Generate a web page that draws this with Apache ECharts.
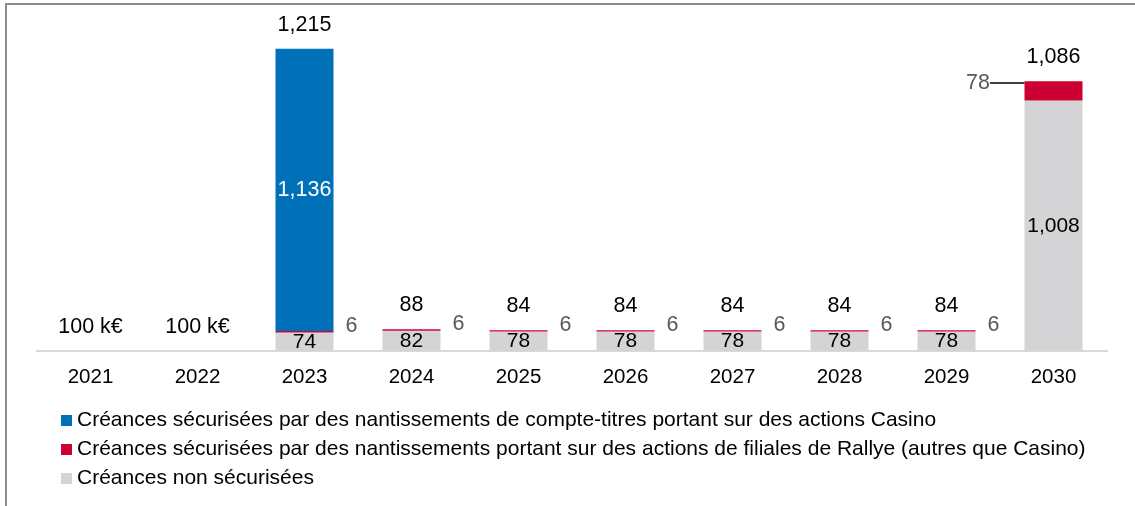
<!DOCTYPE html>
<html>
<head>
<meta charset="utf-8">
<script src="https://cdn.jsdelivr.net/npm/echarts@6/dist/echarts.min.js"></script>
<style>
  html, body { margin: 0; padding: 0; background: #fff; }
  #chart { width: 1135px; height: 506px; }
</style>
</head>
<body>
<div id="chart"></div>
<script>
// data (M€)
const years = ['2021', '2022', '2023', '2024', '2025', '2026', '2027', '2028', '2029', '2030'];
const casinoValues = [0, 0, 1136, 0, 0, 0, 0, 0, 0, 0];
const rallyeValues = [0, 0, 6, 6, 6, 6, 6, 6, 6, 78];
const unsecuredValues = [0.1, 0.1, 74, 82, 78, 78, 78, 78, 78, 1008];
const totals = [0.1, 0.1, 1215, 88, 84, 84, 84, 84, 84, 1086];

const seriesNames = [
  'Créances sécurisées par des nantissements de compte-titres portant sur des actions Casino',
  'Créances sécurisées par des nantissements portant sur des actions de filiales de Rallye (autres que Casino)',
  'Créances non sécurisées',
];

const FONT = 'Liberation Sans, Arial, sans-serif';
const fmt = (v) => v.toLocaleString('en-US');
const lastIdx = years.length - 1;

const chart = echarts.init(document.getElementById('chart'));
const option = {
  animation: false,
  textStyle: { fontFamily: FONT },
  grid: { left: 37, right: 28, top: 28, bottom: 155 },
  legend: {
    orient: 'vertical',
    left: 56,
    top: 405,
    icon: 'rect',
    itemWidth: 11,
    itemHeight: 11,
    itemGap: 8,
    data: seriesNames,
    textStyle: { fontSize: 21, color: '#000', fontFamily: FONT },
    selectedMode: false,
  },
  xAxis: {
    type: 'category',
    data: years,
    axisTick: { show: false },
    axisLine: { lineStyle: { color: '#d9d9d9', width: 2 } },
    axisLabel: { color: '#000', fontSize: 20.5, margin: 16 },
  },
  yAxis: { type: 'value', min: 0, max: 1300, show: false },
  series: [
    {
      name: seriesNames[2],
      type: 'bar',
      stack: 'total',
      barWidth: 58,
      data: unsecuredValues,
      itemStyle: { color: '#d4d4d6' },
      label: {
        show: true,
        position: 'inside',
        color: '#000',
        fontSize: 21,
        formatter: (p) => (p.value >= 1 ? fmt(p.value) : ''),
      },
    },
    {
      name: seriesNames[1],
      type: 'bar',
      stack: 'total',
      data: rallyeValues.map((v, i) =>
        i === lastIdx ? { value: v, labelLine: { show: true } } : v
      ),
      itemStyle: { color: '#cc0033' },
      label: {
        show: true,
        position: 'right',
        distance: 12,
        color: '#595959',
        fontSize: 21.5,
        formatter: (p) => (p.value > 0 ? fmt(p.value) : ''),
      },
      labelLine: { show: false, lineStyle: { color: '#000', width: 1.5 } },
      labelLayout: (p) =>
        p.dataIndex === lastIdx
          ? { x: 990, y: 83, align: 'right', verticalAlign: 'middle' }
          : { dy: -6 },
    },
    {
      name: seriesNames[0],
      type: 'bar',
      stack: 'total',
      data: casinoValues,
      itemStyle: { color: '#0070b8' },
      label: {
        show: true,
        position: 'inside',
        color: '#fff',
        fontSize: 21.5,
        formatter: (p) => (p.value > 0 ? fmt(p.value) : ''),
      },
    },
    {
      name: 'Total',
      type: 'bar',
      stack: 'total',
      data: totals.map(() => 0),
      itemStyle: { color: 'transparent' },
      label: {
        show: true,
        position: 'top',
        distance: 13,
        color: '#000',
        fontSize: 21.5,
        formatter: (p) => {
          const t = totals[p.dataIndex];
          return t < 1 ? t * 1000 + ' k€' : fmt(t);
        },
      },
    },
  ],
  graphic: [
    {
      type: 'polyline',
      shape: { points: [[6, 506], [6, 4], [1135, 4]] },
      style: { stroke: '#8c8c8c', lineWidth: 2, fill: null },
    },
  ],
};
chart.setOption(option);
</script>
</body>
</html>
